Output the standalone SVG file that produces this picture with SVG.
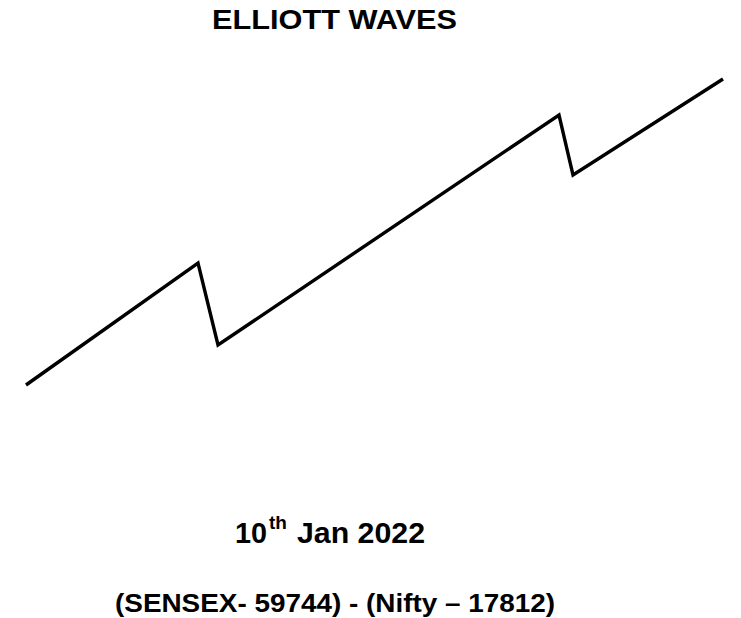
<svg xmlns="http://www.w3.org/2000/svg" width="741" height="618" viewBox="0 0 741 618">
<style>
text{font-family:"Liberation Sans",Arial,sans-serif;font-weight:bold;fill:#000}
.wave{fill:none;stroke:#000;stroke-width:3.4;stroke-linejoin:miter}
</style>
<rect width="741" height="618" fill="#fff"/>
<g id="title"><text x="212" y="29" font-size="28" textLength="245" lengthAdjust="spacingAndGlyphs">ELLIOTT WAVES</text></g>
<g id="connectors"><polyline class="wave" points="26,385 198,263 218,345 559,115 573,175 723,79"/></g>
<g id="date"><text y="543" font-size="29"><tspan x="235" textLength="32" lengthAdjust="spacingAndGlyphs">10</tspan><tspan x="269" y="529" font-size="19">th</tspan><tspan x="297" y="543" textLength="128" lengthAdjust="spacingAndGlyphs">Jan 2022</tspan></text></g>
<g id="index"><text x="115" y="612" font-size="25" textLength="440" lengthAdjust="spacingAndGlyphs">(SENSEX- 59744) - (Nifty – 17812)</text></g>
</svg>
